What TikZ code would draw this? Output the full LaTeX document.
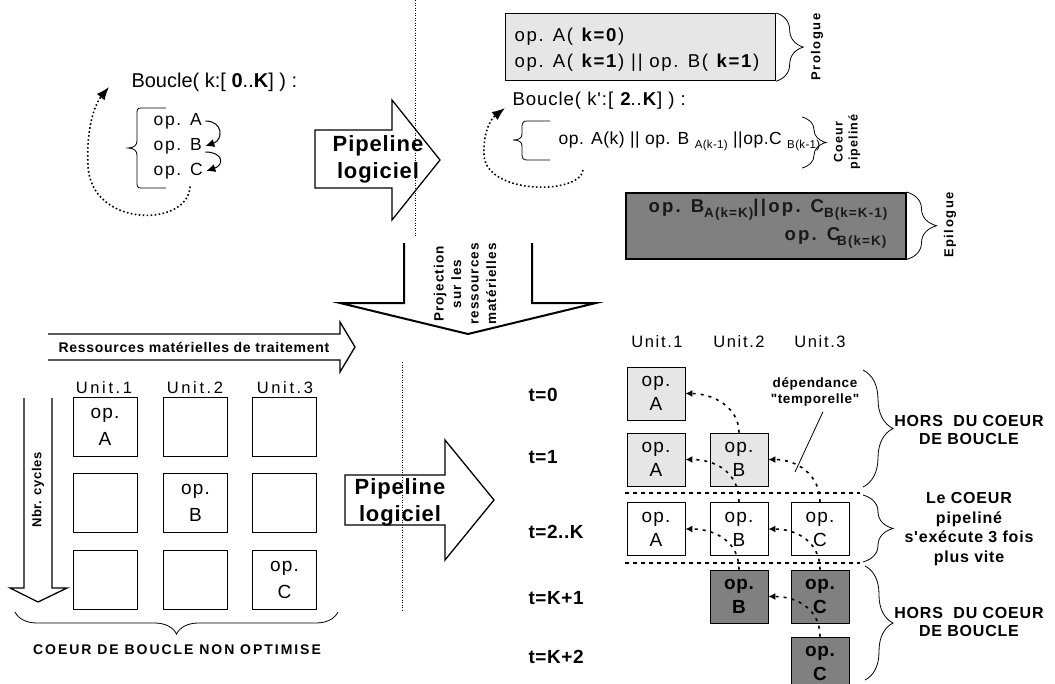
\documentclass[tikz,border=0pt]{standalone}
\usepackage{fontspec}
\setmainfont{Liberation Sans}[Ligatures=TeXOff]
\usetikzlibrary{arrows.meta,decorations.pathreplacing,calc}
\definecolor{lightg}{HTML}{E6E6E6}
\definecolor{darkg}{HTML}{808080}
\newcommand\fsz[2]{\fontsize{#1}{#2}\selectfont}
\newcommand\lsp[1]{\addfontfeature{LetterSpace=#1}}
\newcommand\sub[1]{\raisebox{-4pt}{\fontsize{11.5}{13}\selectfont #1}}
\newcommand\bsub[1]{\raisebox{-5pt}{\fontsize{13.5}{15}\selectfont\addfontfeature{LetterSpace=8}#1}}
\tikzset{
  arrowshape/.style={draw, line width=1.3pt, line join=miter},
  gridbox/.style={draw, line width=0.8pt, minimum width=64pt, minimum height=59pt, inner sep=0pt, align=center, font=\fsz{19}{27}\lsp{6}},
  tbox/.style={draw, line width=0.8pt, minimum width=58pt, minimum height=53pt, inner sep=0pt, align=center, font=\fsz{19}{24}\lsp{6}},
  lightbox/.style={tbox, fill=lightg},
  whitebox/.style={tbox, fill=white},
  darkbox/.style={tbox, fill=darkg, font=\fsz{19}{24}\bfseries\lsp{4}},
  dep/.style={line width=1.6pt, dash pattern=on 3pt off 5pt, -{Latex[length=7pt,width=7pt]}},
  loopdot/.style={line width=1.6pt, dash pattern=on 1.6pt off 2.4pt, -{Latex[length=13pt,width=10pt]}},
  bracedec/.style={decorate, decoration={brace, amplitude=#1}, line width=0.8pt},
  tlab/.style={anchor=west, font=\fsz{19}{22}\bfseries\lsp{3}},
  ulab/.style={font=\fsz{16.5}{20}\lsp{10}},
  rlab/.style={align=center, font=\fsz{16}{18.5}\bfseries\lsp{5}},
  plab/.style={align=center, font=\fsz{22}{27}\bfseries\lsp{4}},
  looptxt/.style={anchor=west, font=\fsz{17.5}{20}\lsp{10}},
}
\begin{document}
\begin{tikzpicture}[x=1pt,y=-1pt]
\useasboundingbox (0,0) rectangle (1055,683);
\fill[white] (0,0) rectangle (1055,683);

% ---------- top left : loop ----------
\node[anchor=west, font=\fsz{20}{24}] (boucle1) at (128,82) {Boucle( k:[ \textbf{0}..\textbf{K}] ) :};
\draw[line width=0.8pt] (166,108) -- (141,108) .. controls (137,108) and (137,110) .. (137,114) -- (137,141) .. controls (137,145) and (134,148) .. (128,148) .. controls (134,148) and (137,151) .. (137,155) -- (137,182) .. controls (137,186) and (137,188) .. (141,188) -- (166,188);
\node[looptxt] (opA) at (150,121) {op. A};
\node[looptxt] (opB) at (150,146) {op. B};
\node[looptxt] (opC) at (150,171) {op. C};
\draw[line width=1pt, -{Latex[length=9pt,width=8pt]}] (opA.east) .. controls +(18,0) and +(18,-6) .. (opB.east);
\draw[line width=1pt, -{Latex[length=9pt,width=8pt]}] ($(opB.east)+(0,6)$) .. controls +(18,0) and +(18,-6) .. (opC.east);
\draw[loopdot] ($(opC.south)+(12,4)$) .. controls (188,228) and (90,228) .. (88,165) .. controls (86,128) and (95,104) .. ($(boucle1.west)+(-19,5)$);

% ---------- separators ----------
\draw[line width=0.8pt, dash pattern=on 1pt off 1.5pt] (415,0) -- (415,237);
\draw[line width=0.8pt, dash pattern=on 1pt off 1.5pt] (402,362) -- (402,612);

% ---------- top pipeline arrow ----------
\draw[arrowshape] (315,130) -- (392,130) -- (392,100) -- (440,160) -- (392,220) -- (392,188) -- (315,188) -- cycle;
\node[plab] (pl1) at (378,159) {Pipeline\\logiciel};

% ---------- top right ----------
\node[draw, line width=1.2pt, fill=lightg, minimum width=270pt, minimum height=67pt, anchor=north west, inner sep=0pt] (prol) at (505,13) {};
\node[anchor=west, font=\fsz{18.6}{22}\lsp{9}] (pro1) at (511,37) {op. A( \textbf{k=0})};
\node[anchor=west, font=\fsz{18.6}{22}\lsp{9}] (pro2) at (511,63) {op. A( \textbf{k=1}) || op. B( \textbf{k=1})};
\draw[bracedec=27pt] (prol.north east) -- (prol.south east);
\node[rotate=90, font=\fsz{13}{15}\bfseries\lsp{12}] (prolab) at (817,47) {Prologue};

\node[anchor=west, font=\fsz{18.6}{22}\lsp{5}] (boucle2) at (509,101) {Boucle( k':[ \textbf{2}..\textbf{K}] ) :};
\draw[line width=0.8pt] (550,121) -- (527,121) .. controls (523,121) and (522,123) .. (522,127) -- (522,134) .. controls (522,138) and (519,140) .. (513,140) .. controls (519,140) and (522,142) .. (522,146) -- (522,154) .. controls (522,158) and (523,160) .. (527,160) -- (550,160);
\node[anchor=west, font=\fsz{17.5}{21}\lsp{3}] (core) at (555,141) {op. A(k) || op. B \sub{A(k-1)} ||op.C \sub{B(k-1)}};
\draw[loopdot] ($(core.west)+(28,29)$) .. controls (580,195) and (486,195) .. (484,155) .. controls (483,130) and (492,118) .. ($(boucle2.west)+(-4,7)$);
\draw[bracedec=24pt] (802,117) -- (802,168);
\node[rotate=90, align=center, font=\fsz{12.5}{15}\bfseries\lsp{8}] (coeurlab) at (847,142) {Coeur\\pipeliné};

\node[draw, line width=1.5pt, fill=darkg, minimum width=280pt, minimum height=66pt, anchor=north west, inner sep=0pt] (epi) at (625,192) {};
\node[anchor=west, text=black!90, font=\fsz{18.6}{22}\bfseries\lsp{12}] (epi1) at (645,210) {op. B\bsub{A(k=K)}||op. C\bsub{B(k=K-1)}};
\node[anchor=west, text=black!90, font=\fsz{18.6}{22}\bfseries\lsp{12}] (epi2) at (781,238) {op. C\kern-3pt\bsub{B(k=K)}};
\draw[bracedec=30pt] (epi.north east) -- (epi.south east);
\node[rotate=90, font=\fsz{13}{15}\bfseries\lsp{12}] (epilab) at (950,225) {Epilogue};

% ---------- projection arrow ----------
\draw[line width=2pt, line join=miter] (404,243) -- (404,303) -- (340,303) -- (468,334) -- (596,303) -- (532,303) -- (532,243);
\node[rotate=90, align=center, font=\fsz{13.5}{17.5}\bfseries\lsp{8}] (proj) at (465,284) {Projection\\sur les\\ressources\\matérielles};

% ---------- lower left ----------
\draw[arrowshape] (48,334) -- (340,334) -- (340,322) -- (355,347) -- (340,372) -- (340,360) -- (48,360);
\node[font=\fsz{14}{16}\bfseries\lsp{5}] (ress) at (194,347) {Ressources matérielles de traitement};
\node[font=\fsz{16.5}{20}\lsp{16}] (u1) at (104,388) {Unit.1};
\node[font=\fsz{16.5}{20}\lsp{16}] (u2) at (195,388) {Unit.2};
\node[font=\fsz{16.5}{20}\lsp{16}] (u3) at (285,388) {Unit.3};
\node[gridbox] (g11) at (105,426.5) {op.\\A};
\node[gridbox] (g12) at (195.5,426.5) {};
\node[gridbox] (g13) at (284.5,426.5) {};
\node[gridbox] (g21) at (105,503) {};
\node[gridbox] (g22) at (195.5,503) {op.\\B};
\node[gridbox] (g23) at (284.5,503) {};
\node[gridbox] (g31) at (105,579.5) {};
\node[gridbox] (g32) at (195.5,579.5) {};
\node[gridbox] (g33) at (284.5,579.5) {op.\\C};
\draw[arrowshape] (24,398) -- (24,588) -- (10,588) -- (38,602) -- (67,588) -- (52,588) -- (52,398);
\node[rotate=90, font=\fsz{13}{15}\bfseries\lsp{4}] (nbr) at (38,490) {Nbr. cycles};
\draw[bracedec=22pt] (338,612) -- (15,612);
\node[font=\fsz{14}{16}\bfseries\lsp{14}] (coeurno) at (177,650) {COEUR DE BOUCLE NON OPTIMISE};

% ---------- lower pipeline arrow ----------
\draw[arrowshape] (345,475) -- (445,475) -- (445,440) -- (494,500) -- (445,560) -- (445,525) -- (345,525) -- cycle;
\node[plab] (pl2) at (400,502) {Pipeline\\logiciel};

% ---------- lower right ----------
\node[ulab] (v1) at (657,342) {Unit.1};
\node[ulab] (v2) at (739,342) {Unit.2};
\node[ulab] (v3) at (820,342) {Unit.3};
\node[tlab] (t0) at (525,395) {t=0};
\node[tlab] (t1) at (525,457) {t=1};
\node[tlab] (t2) at (525,532) {t=2..K};
\node[tlab] (t3) at (525,598) {t=K+1};
\node[tlab] (t4) at (525,657) {t=K+2};

\node[lightbox] (r0a) at (656,393.5) {op.\\A};
\node[lightbox] (r1a) at (656,459.5) {op.\\A};
\node[lightbox] (r1b) at (739,459.5) {op.\\B};
\node[whitebox] (r2a) at (656,529) {op.\\A};
\node[whitebox] (r2b) at (739,529) {op.\\B};
\node[whitebox] (r2c) at (820,529) {op.\\C};
\node[darkbox] (r3b) at (739,596.5) {op.\\B};
\node[darkbox] (r3c) at (820,596.5) {op.\\C};
\node[darkbox] (r4c) at (820,663.5) {op.\\C};

\draw[line width=1.5pt, dash pattern=on 4pt off 4pt] (625,493) -- (860,493);
\draw[line width=1.5pt, dash pattern=on 4pt off 4pt] (625,563) -- (860,563);

\draw[dep] (r1b.north) .. controls +(0,-25) and +(28,0) .. (r0a.east);
\draw[dep] (r2b.north) .. controls +(0,-30) and +(30,0) .. (r1a.east);
\draw[dep] (r2c.north) .. controls +(0,-28) and +(28,0) .. (r1b.east);
\draw[dep] (r3b.north) .. controls +(0,-28) and +(30,0) .. (r2a.east);
\draw[dep] (r3c.north) .. controls +(0,-28) and +(28,0) .. (r2b.east);
\draw[dep] (r4c.north) .. controls +(0,-28) and +(28,0) .. (r3b.east);

\node[align=center, font=\fsz{13.5}{15.5}\bfseries\lsp{5}] (deplab) at (815,392) {dépendance\\"temporelle"};
\draw[line width=0.8pt] ($(deplab.south)+(8,2)$) -- (795,472);

\draw[bracedec=30pt] (863,370) -- (863,487);
\node[rlab] (hors1) at (969,430) {HORS\ \ DU COEUR\\DE BOUCLE};
\draw[bracedec=30pt] (863,495) -- (863,562);
\node[rlab, font=\fsz{16}{19.5}\bfseries\lsp{5}] (lecoeur) at (969,529) {Le COEUR\\pipeliné\\s'exécute 3 fois\\plus vite};
\draw[bracedec=28pt] (865,566) -- (865,680);
\node[rlab] (hors2) at (969,622) {HORS\ \ DU COEUR\\DE BOUCLE};
\end{tikzpicture}
\end{document}
